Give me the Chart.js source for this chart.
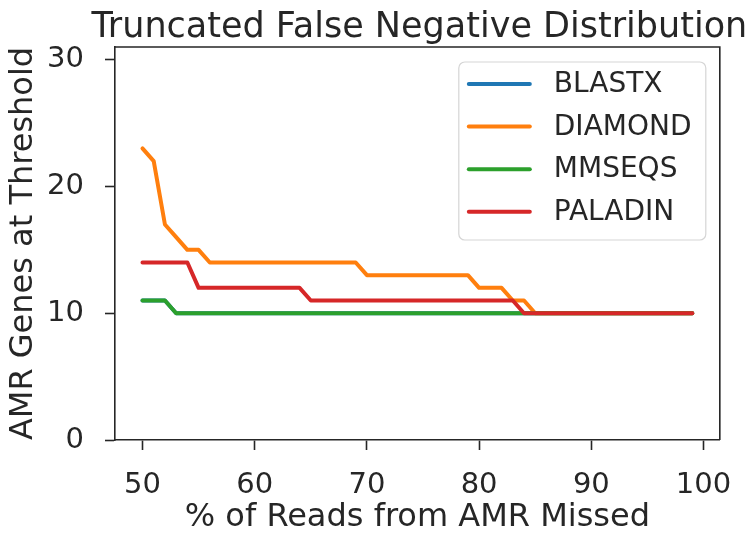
<!DOCTYPE html>
<html>
<head>
    <title>Truncated False Negative Distribution</title>
    <meta http-equiv="content-type" content="text/html; charset=UTF-8"/>
    <script src="https://cdn.jsdelivr.net/npm/chart.js@4.4.0/dist/chart.umd.min.js"></script>
    <style>
        html, body {
            margin: 0;
            padding: 0;
            background: #ffffff;
        }
        #canvas {
            display: block;
        }
    </style>
</head>
<body>
<canvas id="canvas" width="750" height="533"></canvas>
<script>
    // % of reads from AMR missed (x values)
    var percentMissed = [50, 51, 52, 53, 54, 55, 56, 57, 58, 59,
                         60, 61, 62, 63, 64, 65, 66, 67, 68, 69,
                         70, 71, 72, 73, 74, 75, 76, 77, 78, 79,
                         80, 81, 82, 83, 84, 85, 86, 87, 88, 89,
                         90, 91, 92, 93, 94, 95, 96, 97, 98, 99];

    // AMR genes at threshold, one list per tool
    var blastx  = [11, 11, 11, 10, 10, 10, 10, 10, 10, 10,
                   10, 10, 10, 10, 10, 10, 10, 10, 10, 10,
                   10, 10, 10, 10, 10, 10, 10, 10, 10, 10,
                   10, 10, 10, 10, 10, 10, 10, 10, 10, 10,
                   10, 10, 10, 10, 10, 10, 10, 10, 10, 10];
    var diamond = [23, 22, 17, 16, 15, 15, 14, 14, 14, 14,
                   14, 14, 14, 14, 14, 14, 14, 14, 14, 14,
                   13, 13, 13, 13, 13, 13, 13, 13, 13, 13,
                   12, 12, 12, 11, 11, 10, 10, 10, 10, 10,
                   10, 10, 10, 10, 10, 10, 10, 10, 10, 10];
    var mmseqs  = [11, 11, 11, 10, 10, 10, 10, 10, 10, 10,
                   10, 10, 10, 10, 10, 10, 10, 10, 10, 10,
                   10, 10, 10, 10, 10, 10, 10, 10, 10, 10,
                   10, 10, 10, 10, 10, 10, 10, 10, 10, 10,
                   10, 10, 10, 10, 10, 10, 10, 10, 10, 10];
    var paladin = [14, 14, 14, 14, 14, 12, 12, 12, 12, 12,
                   12, 12, 12, 12, 12, 11, 11, 11, 11, 11,
                   11, 11, 11, 11, 11, 11, 11, 11, 11, 11,
                   11, 11, 11, 11, 10, 10, 10, 10, 10, 10,
                   10, 10, 10, 10, 10, 10, 10, 10, 10, 10];

    var seriesNames = ['BLASTX', 'DIAMOND', 'MMSEQS', 'PALADIN'];
    var seriesColors = ['#1f77b4', '#ff7f0e', '#2ca02c', '#d62728'];
    var xTicks = [50, 60, 70, 80, 90, 100];
    var yTicks = [0, 10, 20, 30];

    var ink = '#262626';
    var fontFamily = "'DejaVu Sans', sans-serif";

    function toPoints(values) {
        return values.map(function(v, i) { return {x: percentMissed[i], y: v}; });
    }

    var allSeries = [blastx, diamond, mmseqs, paladin];
    var datasets = allSeries.map(function(values, i) {
        return {
            label: seriesNames[i],
            data: toPoints(values),
            borderColor: seriesColors[i],
            backgroundColor: seriesColors[i],
            borderWidth: 4,
            pointRadius: 0,
            tension: 0,
            fill: false,
            borderJoinStyle: 'round',
            borderCapStyle: 'round',
            order: allSeries.length - i   // later series on top, like matplotlib
        };
    });

    // title, top/right spines and the boxed legend
    var decorations = {
        id: 'decorations',
        afterDatasetsDraw: function(chart) {
            var ctx = chart.ctx;
            var area = chart.chartArea;
            ctx.save();

            // top + right spines
            ctx.strokeStyle = ink;
            ctx.lineWidth = 1.6;
            ctx.beginPath();
            ctx.moveTo(area.left, area.top);
            ctx.lineTo(area.right, area.top);
            ctx.lineTo(area.right, area.bottom);
            ctx.stroke();

            // title
            ctx.fillStyle = ink;
            ctx.font = "35px " + fontFamily;
            ctx.textAlign = 'center';
            ctx.textBaseline = 'alphabetic';
            ctx.fillText('Truncated False Negative Distribution', (area.left + area.right) / 2 + 2, area.top - 10);

            // legend box
            var boxRight = area.right - 14;
            var boxLeft = boxRight - 247;
            var boxTop = area.top + 15;
            var boxBottom = boxTop + 178;
            ctx.beginPath();
            ctx.roundRect(boxLeft, boxTop, boxRight - boxLeft, boxBottom - boxTop, 6);
            ctx.fillStyle = 'rgba(255,255,255,0.8)';
            ctx.fill();
            ctx.strokeStyle = '#d5d5d5';
            ctx.lineWidth = 1.2;
            ctx.stroke();

            ctx.font = "28px " + fontFamily;
            ctx.textAlign = 'left';
            ctx.textBaseline = 'middle';
            chart.data.datasets.forEach(function(ds, i) {
                var rowY = boxTop + 22 + i * 42.6;
                ctx.strokeStyle = ds.borderColor;
                ctx.lineWidth = 4;
                ctx.lineCap = 'round';
                ctx.beginPath();
                ctx.moveTo(boxLeft + 10, rowY);
                ctx.lineTo(boxLeft + 71, rowY);
                ctx.stroke();
                ctx.fillStyle = ink;
                ctx.fillText(ds.label, boxLeft + 95, rowY + 1);
            });

            ctx.restore();
        }
    };

    var context = document.getElementById('canvas').getContext('2d');
    var myChart = new Chart(context, {
        type: 'line',
        data: {datasets: datasets},
        plugins: [decorations],
        options: {
            responsive: false,
            devicePixelRatio: 1,
            animation: false,
            layout: {
                padding: {top: 47, right: 29, left: 0, bottom: 0}
            },
            plugins: {
                legend: {display: false},
                title: {display: false},
                tooltip: {enabled: false}
            },
            scales: {
                x: {
                    type: 'linear',
                    min: 47.55,
                    max: 101.45,
                    afterBuildTicks: function(scale) {
                        scale.ticks = xTicks.map(function(v) { return {value: v}; });
                    },
                    afterFit: function(scale) {
                        scale.height = 93;
                    },
                    border: {display: true, color: ink, width: 1.6},
                    grid: {
                        drawOnChartArea: false,
                        drawTicks: true,
                        tickLength: 10,
                        tickWidth: 1.6,
                        tickColor: ink,
                        color: ink
                    },
                    ticks: {
                        color: ink,
                        padding: 18,
                        maxRotation: 0,
                        font: {family: fontFamily, size: 29}
                    },
                    title: {
                        display: true,
                        text: '% of Reads from AMR Missed',
                        color: ink,
                        padding: {top: 0, bottom: -1},
                        font: {family: fontFamily, size: 32, lineHeight: 1}
                    }
                },
                y: {
                    type: 'linear',
                    min: 0,
                    max: 31,
                    afterBuildTicks: function(scale) {
                        scale.ticks = yTicks.map(function(v) { return {value: v}; });
                    },
                    afterFit: function(scale) {
                        scale.width = 115;
                    },
                    border: {display: true, color: ink, width: 1.6},
                    grid: {
                        drawOnChartArea: false,
                        drawTicks: true,
                        tickLength: 10,
                        tickWidth: 1.6,
                        tickColor: ink,
                        color: ink
                    },
                    ticks: {
                        color: ink,
                        padding: 21,
                        font: {family: fontFamily, size: 29}
                    },
                    title: {
                        display: true,
                        text: 'AMR Genes at Threshold',
                        color: ink,
                        padding: {top: 8, bottom: 0},
                        font: {family: fontFamily, size: 32, lineHeight: 1}
                    }
                }
            }
        }
    });
</script>
</body>
</html>
